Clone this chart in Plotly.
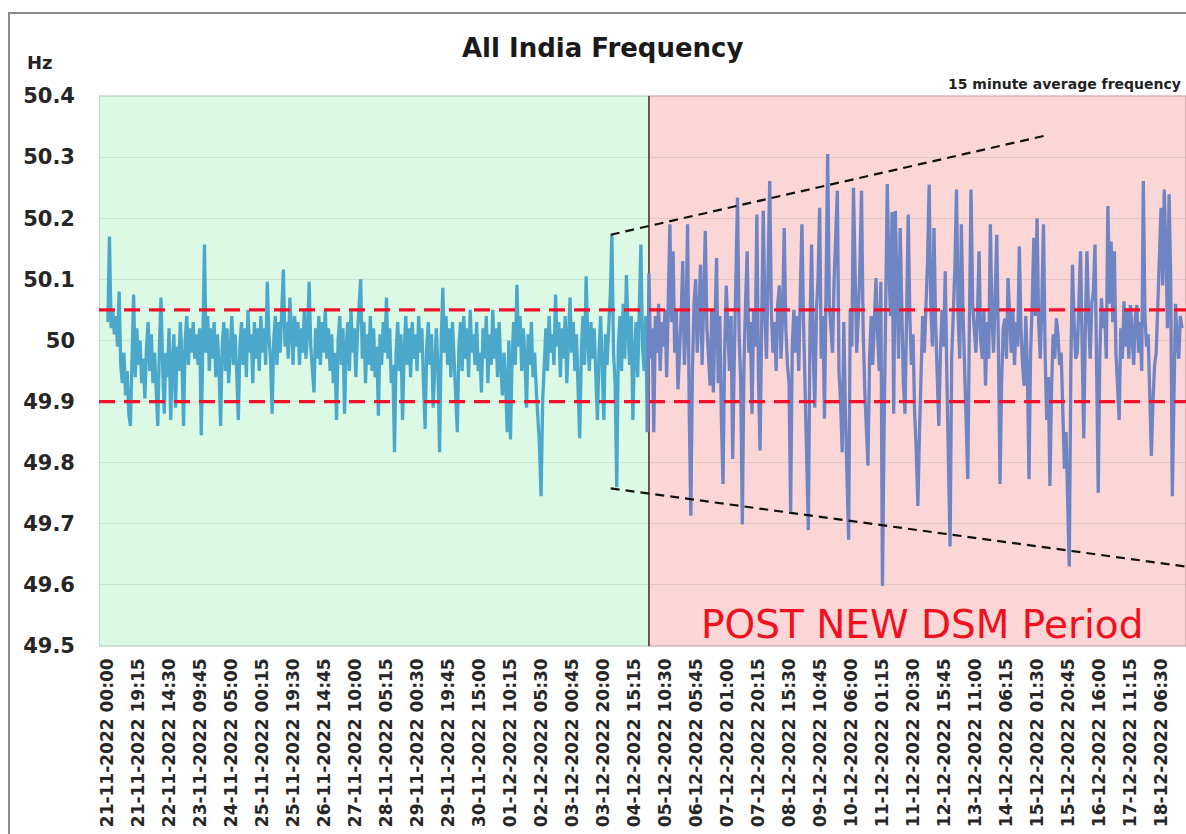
import pandas as pd
import plotly.graph_objects as go

# ---------------- data ----------------
series_start = "2022-11-21 00:00"
dsm_start = "2022-12-05 00:00"
axis_end = "2022-12-18 21:30"
axis_begin = "2022-11-20 18:30"

tick_labels = [
    "21-11-2022 00:00", "21-11-2022 19:15", "22-11-2022 14:30", "23-11-2022 09:45",
    "24-11-2022 05:00", "25-11-2022 00:15", "25-11-2022 19:30", "26-11-2022 14:45",
    "27-11-2022 10:00", "28-11-2022 05:15", "29-11-2022 00:30", "29-11-2022 19:45",
    "30-11-2022 15:00", "01-12-2022 10:15", "02-12-2022 05:30", "03-12-2022 00:45",
    "03-12-2022 20:00", "04-12-2022 15:15", "05-12-2022 10:30", "06-12-2022 05:45",
    "07-12-2022 01:00", "07-12-2022 20:15", "08-12-2022 15:30", "09-12-2022 10:45",
    "10-12-2022 06:00", "11-12-2022 01:15", "11-12-2022 20:30", "12-12-2022 15:45",
    "13-12-2022 11:00", "14-12-2022 06:15", "15-12-2022 01:30", "15-12-2022 20:45",
    "16-12-2022 16:00", "17-12-2022 11:15", "18-12-2022 06:30",
]
y_tick_values = [49.5, 49.6, 49.7, 49.8, 49.9, 50.0, 50.1, 50.2, 50.3, 50.4]
y_tick_text = ["49.5", "49.6", "49.7", "49.8", "49.9", "50", "50.1", "50.2", "50.3", "50.4"]

# hourly readings (Hz) before the new DSM, from 21-11-2022 00:00
freq_pre = [
    50.03, 50.17, 50.02, 50.05, 50.01, 50.04, 49.99, 50.08, 49.96, 49.93, 49.98, 49.91,
    49.95, 49.88, 49.86, 49.97, 50.075, 49.94, 50.02, 49.96, 50.00, 49.93, 49.97, 49.905,
    49.99, 50.03, 49.95, 50.01, 49.93, 49.98, 49.92, 49.86, 49.99, 50.07, 49.96, 49.88,
    49.98, 49.94, 50.02, 49.87, 49.96, 50.01, 49.89, 49.99, 49.95, 50.03, 49.97, 49.86,
    50.00, 50.04, 49.96, 50.02, 49.98, 50.03, 49.97, 50.01, 49.96, 50.02, 49.845, 49.99,
    50.157, 49.98, 50.04, 49.95, 50.02, 49.97, 50.03, 49.94, 50.01, 49.96, 49.86, 49.99,
    50.03, 49.95, 50.02, 49.93, 50.00, 50.04, 49.96, 50.01, 49.95, 49.87, 49.99, 50.03,
    49.96, 50.02, 49.94, 50.05, 49.98, 50.01, 49.93, 50.03, 49.97, 50.02, 49.95, 50.04,
    49.98, 50.02, 49.96, 50.096, 50.01, 49.97, 49.88, 50.00, 50.04, 49.96, 50.03, 49.98,
    50.05, 50.116, 49.99, 50.03, 49.97, 50.07, 50.02, 49.96, 50.04, 49.99, 50.03, 49.96,
    50.02, 49.98, 50.05, 49.97, 50.01, 50.096, 49.99, 49.95, 49.915, 50.02, 49.97, 50.04,
    49.96, 50.03, 49.98, 50.05, 49.97, 50.02, 49.95, 50.01, 49.93, 49.98, 49.87, 50.00,
    50.04, 49.96, 50.02, 49.88, 49.99, 50.03, 49.95, 50.05, 49.98, 50.02, 49.94, 50.01,
    50.06, 50.10, 49.97, 50.03, 49.93, 50.01, 49.96, 50.04, 49.95, 50.02, 49.94, 49.99,
    49.877, 50.01, 49.96, 50.03, 49.98, 50.07, 49.97, 50.02, 49.93, 49.96, 49.817, 49.98,
    50.03, 49.95, 50.01, 49.87, 49.98, 50.04, 49.96, 50.02, 49.94, 50.03, 49.97, 50.01,
    49.95, 50.04, 49.98, 50.02, 49.93, 49.855, 49.99, 50.03, 49.96, 50.01, 49.89, 49.97,
    50.02, 49.95, 49.817, 50.00, 50.086, 49.98, 50.04, 49.96, 50.02, 49.94, 50.03, 49.97,
    49.92, 49.85, 49.99, 50.03, 49.95, 50.04, 49.97, 50.02, 49.94, 50.05, 49.98, 50.01,
    49.96, 50.03, 49.95, 49.98, 49.915, 50.02, 49.97, 50.04, 49.93, 50.01, 49.96, 50.05,
    49.97, 50.02, 49.94, 50.03, 49.96, 49.91, 49.98, 49.93, 49.85, 50.00, 49.838, 49.97,
    50.03, 49.96, 50.091, 49.99, 50.04, 49.95, 50.02, 49.97, 49.89, 50.01, 49.96, 50.03,
    49.94, 49.98, 49.92, 49.88, 49.83, 49.745, 49.90, 49.96, 50.02, 49.95, 50.04, 49.98,
    50.01, 49.96, 50.075, 49.99, 50.03, 49.94, 50.02, 49.97, 50.04, 49.93, 50.01, 50.07,
    49.98, 50.03, 49.95, 50.01, 49.92, 49.84, 49.98, 50.04, 49.96, 50.105, 50.00, 49.95,
    50.03, 49.97, 50.02, 49.93, 49.87, 49.98, 50.04, 49.95, 49.87, 50.01, 49.96, 50.02,
    50.075, 50.173, 49.98, 49.93, 49.76, 49.99, 50.04, 49.95, 50.06, 49.97, 50.107, 50.02,
    49.96, 50.04, 49.87, 49.98, 50.03, 49.94, 50.08, 50.157, 49.99, 49.95, 50.04, 49.85,
]

# hourly readings (Hz) after the new DSM, from 05-12-2022 00:00
freq_post = [
    50.11, 49.97, 50.02, 49.85, 50.04, 49.98, 50.06, 49.95, 50.03, 49.99, 50.05, 49.94,
    50.08, 50.19, 50.03, 50.146, 49.98, 50.05, 49.92, 49.97, 50.04, 50.13, 49.96, 50.02,
    50.19, 49.89, 49.713, 49.95, 50.06, 50.10, 49.98, 50.04, 50.124, 49.96, 50.06, 50.179,
    50.02, 49.97, 49.926, 50.05, 49.915, 50.03, 50.135, 49.93, 50.04, 49.87, 49.765, 49.98,
    50.09, 50.02, 49.95, 50.04, 49.806, 49.97, 50.08, 50.234, 50.01, 49.93, 49.699, 49.96,
    50.06, 50.146, 49.98, 50.03, 49.88, 50.05, 49.99, 50.206, 49.94, 49.82, 50.03, 50.212,
    50.04, 49.97, 50.12, 50.261, 50.05, 49.98, 50.03, 49.95, 50.06, 50.09, 49.97, 50.04,
    50.184, 50.02, 49.96, 49.93, 49.72, 49.99, 50.05, 49.98, 50.04, 49.95, 50.08, 50.19,
    50.03, 49.92, 49.81, 49.69, 50.02, 50.157, 49.98, 49.89, 50.05, 50.10, 50.217, 49.97,
    50.04, 49.872, 50.09, 50.305, 50.06, 50.01, 49.98, 50.10, 50.17, 50.245, 49.95, 49.90,
    49.817, 50.03, 49.88, 49.77, 49.674, 50.05, 49.99, 50.25, 50.08, 49.98, 50.04, 50.12,
    50.245, 50.02, 49.92, 49.86, 49.795, 49.97, 50.04, 49.96, 50.03, 50.102, 50.01, 49.95,
    50.096, 49.598, 49.85, 50.05, 50.256, 50.12, 50.04, 50.21, 49.88, 50.212, 50.05, 49.97,
    50.184, 50.06, 49.93, 49.88, 50.02, 50.206, 50.04, 49.96, 50.01, 49.88, 49.82, 49.729,
    49.85, 49.96, 50.04, 49.98, 50.06, 50.13, 50.255, 50.06, 49.99, 50.184, 50.03, 49.95,
    49.86, 49.98, 50.05, 49.99, 50.113, 49.94, 49.80, 49.663, 49.97, 50.05, 50.12, 50.247,
    50.04, 49.97, 50.19, 50.05, 49.95, 49.86, 49.773, 50.03, 50.247, 50.06, 50.02, 49.98,
    50.04, 50.146, 50.00, 49.97, 50.05, 49.926, 50.03, 49.97, 50.19, 50.04, 49.98, 50.08,
    50.173, 49.99, 49.765, 49.93, 50.02, 50.036, 49.97, 50.102, 50.03, 49.98, 50.05, 49.96,
    50.03, 49.99, 50.154, 50.02, 49.96, 49.926, 50.04, 49.95, 49.773, 49.98, 50.06, 50.168,
    50.04, 50.20, 50.03, 49.97, 50.06, 50.19, 49.98, 49.87, 49.94, 49.762, 49.92, 50.01,
    49.97, 50.036, 50.01, 49.96, 49.98, 49.90, 49.79, 49.85, 49.73, 49.63, 49.96, 50.124,
    50.03, 49.97, 49.98, 50.05, 50.146, 49.99, 49.84, 50.02, 50.146, 50.04, 49.97, 50.06,
    50.08, 50.157, 49.96, 49.751, 49.98, 50.069, 50.02, 50.05, 49.97, 50.22, 50.06, 50.162,
    50.03, 50.146, 49.98, 49.92, 49.87, 50.02, 49.97, 50.064, 49.99, 50.05, 49.97, 50.058,
    50.01, 49.96, 50.04, 50.058, 49.98, 50.03, 49.95, 50.261, 50.04, 49.99, 50.01, 49.93,
    49.811, 49.90, 49.96, 49.98, 50.05, 50.12, 50.217, 50.09, 50.247, 50.15, 50.02, 50.239,
    50.10, 49.745, 49.95, 50.06, 50.00, 49.97, 50.04, 50.02,
]

band_upper = 50.05
band_lower = 49.90

trend_upper_x = ["2022-12-04 00:15", "2022-12-15 05:45"]
trend_upper_y = [50.173, 50.335]
trend_lower_x = ["2022-12-04 00:15", "2022-12-18 21:30"]
trend_lower_y = [49.758, 49.630]

# ---------------- build ----------------
t0 = pd.Timestamp(series_start)
t_dsm = pd.Timestamp(dsm_start)
x_pre = [t0 + pd.Timedelta(hours=i) for i in range(len(freq_pre))]
x_post = [x_pre[-1]] + [t_dsm + pd.Timedelta(hours=i) for i in range(len(freq_post))]
y_post = [freq_pre[-1]] + freq_post
tick_vals = [t0 + pd.Timedelta(minutes=15 * 77 * k) for k in range(len(tick_labels))]

FONT = "DejaVu Sans"
fig = go.Figure()
fig.add_trace(go.Scatter(x=x_pre, y=freq_pre, mode="lines",
                         line=dict(color="#4BA8CB", width=3.3), hoverinfo="skip"))
fig.add_trace(go.Scatter(x=x_post, y=y_post, mode="lines",
                         line=dict(color="#6F84C2", width=3.3), hoverinfo="skip"))

# background regions
fig.add_shape(type="rect", xref="x", yref="paper", x0=axis_begin, x1=dsm_start, y0=0, y1=1,
              fillcolor="#DCF9E5", line=dict(color="#A9C9B2", width=1.2), layer="below")
fig.add_shape(type="rect", xref="x", yref="paper", x0=dsm_start, x1=axis_end, y0=0, y1=1,
              fillcolor="#FBD6D7", line=dict(color="#C29A9A", width=1.2), layer="below")
fig.add_shape(type="line", xref="x", yref="paper", x0=dsm_start, x1=dsm_start, y0=0, y1=1,
              line=dict(color="#5B3232", width=1.5), layer="below")

# red band lines
for lvl in (band_upper, band_lower):
    fig.add_shape(type="line", xref="paper", yref="y", x0=0, x1=1, y0=lvl, y1=lvl,
                  line=dict(color="#F2102A", width=3.2, dash="16px,9px"), layer="above")

# trend lines
fig.add_trace(go.Scatter(x=trend_upper_x, y=trend_upper_y, mode="lines",
                         line=dict(color="#111111", width=2.2, dash="9px,6px"), hoverinfo="skip"))
fig.add_trace(go.Scatter(x=trend_lower_x, y=trend_lower_y, mode="lines",
                         line=dict(color="#111111", width=2.2, dash="9px,6px"), hoverinfo="skip"))

# outer frame
fig.add_shape(type="rect", xref="paper", yref="paper", x0=-0.0828, x1=1.2, y0=-0.6, y1=1.1509,
              line=dict(color="#8C8C8C", width=2), fillcolor="rgba(0,0,0,0)", layer="above")

fig.add_annotation(text="<b>All India Frequency</b>", xref="paper", yref="paper",
                   x=0.4637, y=1.0873, xanchor="center", yanchor="middle", showarrow=False,
                   font=dict(family=FONT, size=26, color="#1a1a1a"))
fig.add_annotation(text="<b>Hz</b>", xref="paper", yref="paper",
                   x=-0.0543, y=1.0618, xanchor="center", yanchor="middle", showarrow=False,
                   font=dict(family=FONT, size=18, color="#222222"))
fig.add_annotation(text="<b>15 minute average frequency</b>", xref="paper", yref="paper",
                   x=0.997, y=1.0218, xanchor="right", yanchor="middle", showarrow=False,
                   font=dict(family=FONT, size=14, color="#222222"))
fig.add_annotation(text="POST NEW DSM Period", xref="paper", yref="paper",
                   x=0.7571, y=0.0382, xanchor="center", yanchor="middle", showarrow=False,
                   font=dict(family=FONT, size=39, color="#F0101E"))

fig.update_layout(
    width=1186, height=834,
    margin=dict(l=99, r=0, t=96, b=188),
    paper_bgcolor="white", plot_bgcolor="white",
    showlegend=False,
    xaxis=dict(type="date", range=[axis_begin, axis_end], tickmode="array",
               tickvals=tick_vals, ticktext=tick_labels, tickangle=-90,
               showgrid=False, showline=False, zeroline=False, ticks="",
               ticklabelstandoff=8,
               tickfont=dict(family=FONT, size=17, color="#262626", weight="bold")),
    yaxis=dict(range=[49.5, 50.4], tickmode="array", tickvals=y_tick_values,
               ticktext=y_tick_text, showgrid=True, gridcolor="rgba(110,110,110,0.16)",
               gridwidth=1, zeroline=False, showline=False, ticks="",
               ticklabelstandoff=23,
               tickfont=dict(family=FONT, size=21, color="#262626", weight="bold")),
)

fig.write_html(
    "out.html",
    config={"displayModeBar": False},
    post_script="document.body.style.margin='0';document.body.style.overflow='hidden';",
)
